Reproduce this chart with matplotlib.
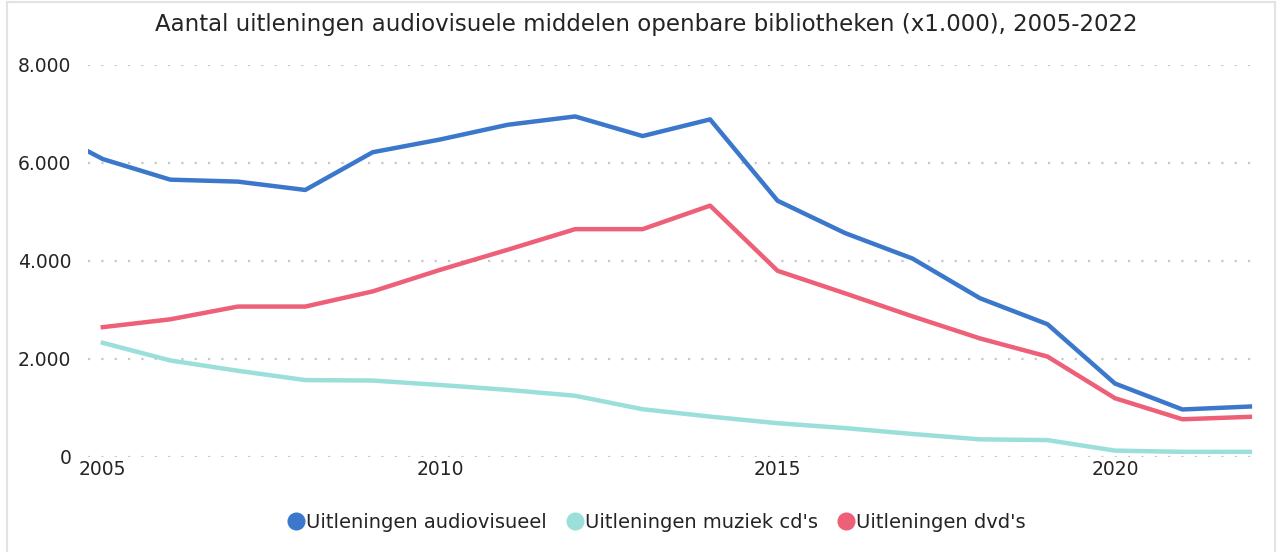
import matplotlib

matplotlib.use("Agg")
import matplotlib.pyplot as plt
from matplotlib.lines import Line2D

years = list(range(2004, 2023))
# thousands of loans; the 2004 point lies left of the visible axis range
audiovisueel = [6800, 6080, 5660, 5620, 5450, 6220, 6480, 6780, 6950, 6550, 6890,
                5230, 4570, 4050, 3240, 2710, 1500, 970, 1030]
years_short = list(range(2005, 2023))
muziek_cds = [2330, 1970, 1760, 1570, 1560, 1470, 1370, 1250, 975, 825,
              690, 590, 470, 360, 345, 130, 105, 105]
dvds = [2650, 2810, 3070, 3070, 3380, 3820, 4230, 4650, 4650, 5130,
        3800, 3340, 2870, 2420, 2050, 1200, 770, 820]

series_labels = ["Uitleningen audiovisueel", "Uitleningen muziek cd's", "Uitleningen dvd's"]
series_colors = ["#3B78CB", "#9ADFD9", "#EE5F78"]
title = "Aantal uitleningen audiovisuele middelen openbare bibliotheken (x1.000), 2005-2022"

plt.rcParams["font.family"] = ["DejaVu Sans"]
text_color = "#252423"

fig = plt.figure(figsize=(12.81, 5.52), dpi=100)
ax = fig.add_axes([88 / 1281, 1 - 457 / 552, (1260 - 88) / 1281, (457 - 65) / 552])

ax.plot(years, audiovisueel, color=series_colors[0], linewidth=3.2)
ax.plot(years_short, muziek_cds, color=series_colors[1], linewidth=3.2)
ax.plot(years_short, dvds, color=series_colors[2], linewidth=3.2)

ax.set_xlim(2004.78, 2022.15)
ax.set_ylim(0, 8000)
ax.set_xticks([2005, 2010, 2015, 2020])
ax.set_yticks([0, 2000, 4000, 6000, 8000])
ax.set_yticklabels(["0", "2.000", "4.000", "6.000", "8.000"])
ax.tick_params(axis="both", length=0, labelsize=13.5, colors=text_color)
ax.tick_params(axis="y", pad=12)
ax.tick_params(axis="x", pad=2)
ax.grid(axis="y", color="#C8C8C8", linestyle=(0, (1, 5)), linewidth=1.6)
ax.set_axisbelow(True)
for spine in ax.spines.values():
    spine.set_visible(False)

fig.text(646 / 1281, 1 - 24 / 552, title, ha="center", va="center",
         fontsize=16.5, color=text_color)

handles = [
    Line2D([], [], linestyle="none", marker="o", markersize=12,
           markerfacecolor=c, markeredgecolor=c)
    for c in series_colors
]
fig.legend(handles, series_labels, loc="center", bbox_to_anchor=(656 / 1281, 1 - 522 / 552),
           ncol=3, frameon=False, fontsize=14, handletextpad=0.0, columnspacing=0.95,
           handlelength=1.0, labelcolor=text_color)

# faint border of the visual container
border = "#E3E3E3"
fig.add_artist(Line2D([7 / 1281, 7 / 1281], [0, 1 - 2 / 552], color=border, linewidth=1.5,
                      transform=fig.transFigure))
fig.add_artist(Line2D([7 / 1281, 1275 / 1281], [1 - 2 / 552, 1 - 2 / 552], color=border,
                      linewidth=1.5, transform=fig.transFigure))
fig.add_artist(Line2D([1275 / 1281, 1275 / 1281], [0, 1 - 2 / 552], color=border, linewidth=1.5,
                      transform=fig.transFigure))

fig.savefig("out.png", dpi=100)
